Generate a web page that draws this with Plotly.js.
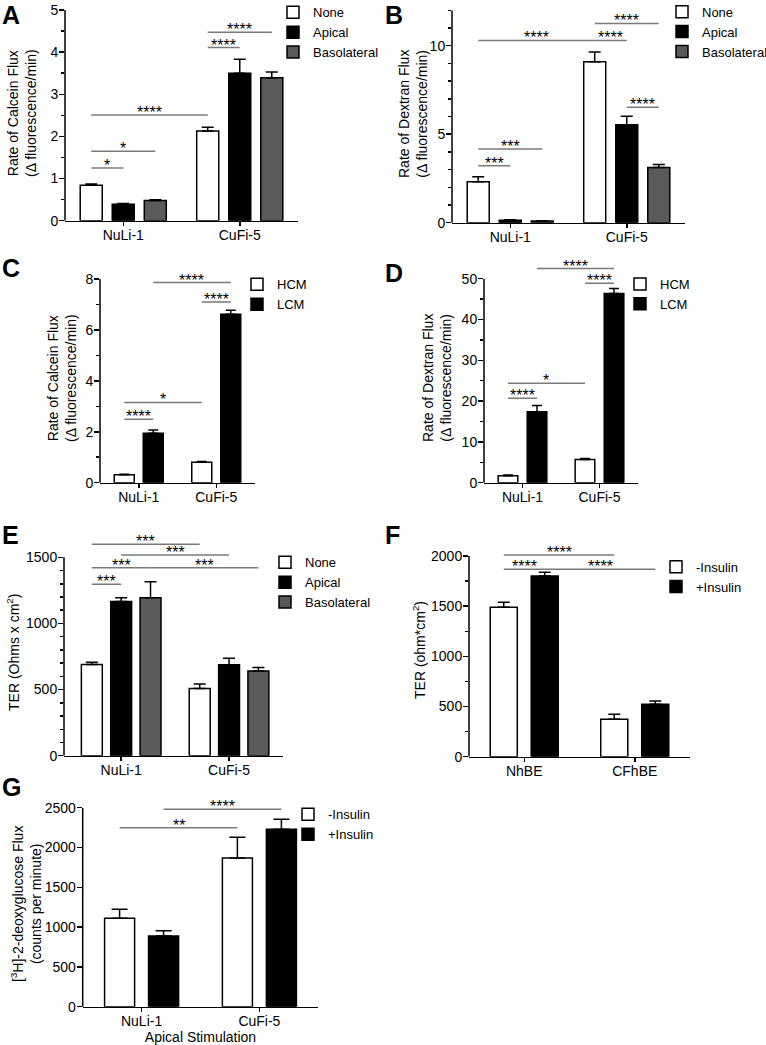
<!DOCTYPE html>
<html><head><meta charset="utf-8">
<script src="https://cdn.plot.ly/plotly-3.0.1.min.js"></script>
<style>html,body{margin:0;padding:0;background:#fff}#chart{width:766px;height:1045px}</style>
</head><body><div id="chart"></div>
<script>
const W = 766, H = 1045;
const FONT = 'Liberation Sans, Arial, Helvetica, sans-serif';

// ---------- categories ----------
const cellLines = ['NuLi-1', 'CuFi-5'];
const primaryCells = ['NhBE', 'CFhBE'];

// ---------- Panel A: calcein flux ----------
const aNone = [0.84, 2.13], aNoneErr = [0.03, 0.09];
const aApical = [0.39, 3.50], aApicalErr = [0.02, 0.33];
const aBaso = [0.48, 3.39], aBasoErr = [0.02, 0.14];
// significance: [cat0, bar0, cat1, bar1, y, label]
const aSig = [[0,0,0,1,1.25,'*'], [0,0,0,2,1.65,'*'], [0,0,1,0,2.51,'****'], [1,0,1,1,4.11,'****'], [1,0,1,2,4.47,'****']];

// ---------- Panel B: dextran flux ----------
const bNone = [2.32, 9.10], bNoneErr = [0.28, 0.55];
const bApical = [0.14, 5.54], bApicalErr = [0.03, 0.47];
const bBaso = [0.09, 3.12], bBasoErr = [0.02, 0.17];
const bSig = [[0,0,0,1,3.22,'***'], [0,0,0,2,4.16,'***'], [0,0,1,0,10.3,'****'], [1,0,1,1,10.3,'****'], [1,0,1,2,11.26,'****'], [1,1,1,2,6.52,'****']];

// ---------- Panel C: calcein flux, HCM vs LCM ----------
const cHCM = [0.31, 0.80], cHCMErr = [0.02, 0.03];
const cLCM = [1.94, 6.62], cLCMErr = [0.13, 0.15];
const cSig = [[0,0,0,1,2.49,'****'], [0,0,1,0,3.15,'*'], [1,0,1,1,7.1,'****'], [0,1,1,1,7.86,'****']];

// ---------- Panel D: dextran flux, HCM vs LCM ----------
const dHCM = [1.7, 5.7], dHCMErr = [0.2, 0.25];
const dLCM = [17.4, 46.4], dLCMErr = [1.5, 1.2];
const dSig = [[0,0,0,1,20.7,'****'], [0,0,1,0,24.4,'*'], [1,0,1,1,48.9,'****'], [0,1,1,1,52.5,'****']];

// ---------- Panel E: TER ----------
const eNone = [690, 509], eNoneErr = [16, 33];
const eApical = [1165, 688], eApicalErr = [30, 48];
const eBaso = [1195, 640], eBasoErr = [121, 26];
const eSig = [[0,0,0,1,1296,'***'], [0,0,0,2,1422,'***'], [0,2,1,2,1422,'***'], [0,1,1,1,1518,'***'], [0,0,1,0,1598,'***']];

// ---------- Panel F: TER, insulin ----------
const fMinus = [1489, 373], fMinusErr = [50, 49];
const fPlus = [1801, 522], fPlusErr = [37, 33];
const fSig = [[0,0,0,1,1868,'****'], [0,1,1,1,1868,'****'], [0,0,1,0,2011,'****']];

// ---------- Panel G: 2-deoxyglucose flux ----------
const gMinus = [1110, 1869], gMinusErr = [114, 259];
const gPlus = [888, 2229], gPlusErr = [67, 125];
const gSig = [[0,0,1,0,2249,'**'], [0,1,1,1,2480,'****']];

// ---------- styles ----------
const LINE = '#000000', SIGC = '#7a7a7a';
const WHITE = '#ffffff', BLACK = '#000000', GRAY = '#5a5a5a';

const panels = [
  {letter:'A', lp:[1, 0], dom:[65, 298, 10, 220.7], xr:[-0.5, 1.5], yr:[0, 5], yTop:5, major:1, minor:0.5,
   cats:cellLines, series:[['None', aNone, aNoneErr, WHITE], ['Apical', aApical, aApicalErr, BLACK], ['Basolateral', aBaso, aBasoErr, GRAY]],
   sig:aSig, slot:0.275, bw:0.189, cap:6, ytitle:'Rate of Calcein Flux<br>(Δ fluorescence/min)', tp:[22, 113], leg:[309, 12.3]},
  {letter:'B', lp:[384, 0], dom:[452, 685, 10.3, 222.7], xr:[-0.5, 1.5], yr:[0, 12], yTop:12, major:5, minor:1,
   cats:cellLines, series:[['None', bNone, bNoneErr, WHITE], ['Apical', bApical, bApicalErr, BLACK], ['Basolateral', bBaso, bBasoErr, GRAY]],
   sig:bSig, slot:0.275, bw:0.189, cap:6, ytitle:'Rate of Dextran Flux<br>(Δ fluorescence/min)', tp:[413, 114], leg:[698, 11.7]},
  {letter:'C', lp:[1, 253.3], dom:[100, 255, 279, 482.7], xr:[-0.5, 1.5], yr:[0, 8], yTop:8, major:2, minor:1,
   cats:cellLines, series:[['HCM', cHCM, cHCMErr, WHITE], ['LCM', cLCM, cLCMErr, BLACK]],
   sig:cSig, slot:0.374, bw:0.258, cap:5, ytitle:'Rate of Calcein Flux<br>(Δ fluorescence/min)', tp:[62, 378], leg:[273, 284.3]},
  {letter:'D', lp:[384, 258.3], dom:[484, 638, 262.4, 482.7], xr:[-0.5, 1.5], yr:[0, 54], yTop:50, major:10, minor:5,
   cats:cellLines, series:[['HCM', dHCM, dHCMErr, WHITE], ['LCM', dLCM, dLCMErr, BLACK]],
   sig:dSig, slot:0.377, bw:0.255, cap:5, ytitle:'Rate of Dextran Flux<br>(Δ fluorescence/min)', tp:[437, 378], leg:[656, 284]},
  {letter:'E', lp:[1, 520.3], dom:[64, 283, 538.8, 755.7], xr:[-0.53, 1.5], yr:[0, 1640], yTop:1500, major:500, minor:100,
   cats:cellLines, series:[['None', eNone, eNoneErr, WHITE], ['Apical', eApical, eApicalErr, BLACK], ['Basolateral', eBaso, eBasoErr, GRAY]],
   sig:eSig, slot:0.272, bw:0.194, cap:6, ytitle:'TER (Ohms x cm<sup>2</sup>)', tp:[13, 653], leg:[301, 562.3]},
  {letter:'F', lp:[384, 520.3], dom:[469, 690, 548, 756.7], xr:[-0.5, 1.5], yr:[0, 2080], yTop:2000, major:500, minor:250,
   cats:primaryCells, series:[['-Insulin', fMinus, fMinusErr, WHITE], ['+Insulin', fPlus, fPlusErr, BLACK]],
   sig:fSig, slot:0.371, bw:0.245, cap:6, ytitle:'TER (ohm*cm<sup>2</sup>)', tp:[419, 650], leg:[692, 566.7]},
  {letter:'G', lp:[1, 772.3], dom:[82.7, 318.3, 807.7, 1006.7], xr:[-0.5, 1.5], yr:[0, 2500], yTop:2500, major:500, minor:0,
   cats:cellLines, series:[['-Insulin', gMinus, gMinusErr, WHITE], ['+Insulin', gPlus, gPlusErr, BLACK]],
   sig:gSig, slot:0.3735, bw:0.255, cap:8, ytitle:'[<sup>3</sup>H]-2-deoxyglucose Flux<br>(counts per minute)', tp:[26, 904], leg:[324, 814.3],
   xtitle:'Apical Stimulation'}
];

const data = [], shapes = [], annotations = [];
const layout = {
  width: W, height: H,
  margin: {l:0, r:0, t:0, b:0, pad:0, autoexpand:false},
  paper_bgcolor: '#ffffff', plot_bgcolor: 'rgba(0,0,0,0)',
  font: {family: FONT, size: 14, color: '#000'},
  barmode: 'overlay', showlegend: true, hovermode: false
};

panels.forEach((p, k) => {
  const n = k + 1, sx = n === 1 ? '' : String(n);
  const xa = 'x' + sx, ya = 'y' + sx, legName = 'legend' + sx;
  const ns = p.series.length;
  const barX = (c, b) => c + (b - (ns - 1) / 2) * p.slot;

  p.series.forEach((s, i) => {
    data.push({
      type: 'bar', x: p.cats, y: s[1], name: s[0], xaxis: xa, yaxis: ya, legend: legName,
      width: p.bw, offset: (i - (ns - 1) / 2) * p.slot - p.bw / 2,
      marker: {color: s[3], line: {color: LINE, width: 1.5}},
      error_y: {type: 'data', symmetric: false, array: s[2], arrayminus: s[2].map(() => 0),
                color: LINE, thickness: 1.5, width: p.cap},
      hoverinfo: 'skip'
    });
  });

  const [x0, x1, yt, yb] = p.dom;
  const xax = {
    domain: [x0 / W, x1 / W], anchor: ya, type: 'category', range: p.xr, autorange: false,
    showline: true, linewidth: 1.5, linecolor: LINE, ticks: 'outside', ticklen: 4, tickwidth: 1.5, tickcolor: LINE,
    ticklabelstandoff: -3,
    showgrid: false, zeroline: false, tickfont: {size: 14}, fixedrange: true
  };
  if (p.xtitle) xax.title = {text: p.xtitle, font: {size: 14}, standoff: 1};
  layout['xaxis' + sx] = xax;

  const majors = [], minors = [];
  for (let v = 0; v <= p.yTop + 1e-9; v += p.major) majors.push(+v.toFixed(6));
  if (p.minor) for (let v = 0; v <= p.yTop + 1e-9; v += p.minor) minors.push(+v.toFixed(6));
  const yax = {
    domain: [1 - yb / H, 1 - yt / H], anchor: xa, range: p.yr, autorange: false,
    showline: false, ticks: 'outside', ticklen: 5, tickwidth: 1.5, tickcolor: LINE, ticklabelstandoff: -2,
    tickmode: 'array', tickvals: majors, showgrid: false, zeroline: false, tickfont: {size: 14}, fixedrange: true
  };
  if (p.minor) yax.minor = {tickmode: 'array', tickvals: minors, ticks: 'outside', ticklen: 3, tickwidth: 1.5, tickcolor: LINE, showgrid: false};
  layout['yaxis' + sx] = yax;

  // y axis title (two-line, rotated)
  annotations.push({xref: 'paper', yref: 'paper', x: p.tp[0] / W, y: 1 - p.tp[1] / H, xanchor: 'center', yanchor: 'middle',
                    textangle: -90, text: p.ytitle, showarrow: false, font: {size: 14, color: '#000'}});

  // y axis line (stops at last tick)
  shapes.push({type: 'line', xref: xa + ' domain', yref: ya, x0: 0, x1: 0, y0: 0, y1: p.yTop,
               line: {color: LINE, width: 1.5}, layer: 'above'});

  // significance brackets
  p.sig.forEach(([c0, b0, c1, b1, y, lab]) => {
    const sx0 = barX(c0, b0), sx1 = barX(c1, b1);
    shapes.push({type: 'line', xref: xa, yref: ya, x0: sx0, x1: sx1, y0: y, y1: y,
                 line: {color: SIGC, width: 1.5}, layer: 'above'});
    annotations.push({xref: xa, yref: ya, x: (sx0 + sx1) / 2, y: y, text: lab, showarrow: false,
                      xanchor: 'center', yanchor: 'bottom', yshift: -8, font: {size: 16, color: '#000'}});
  });

  // panel letter
  annotations.push({xref: 'paper', yref: 'paper', x: p.lp[0] / W, y: 1 - p.lp[1] / H, xanchor: 'left', yanchor: 'top',
                    borderpad: 0, text: '<b>' + p.letter + '</b>', showarrow: false, font: {size: 25, color: '#000'}});

  layout[legName] = {
    x: (p.leg[0] - 36) / W, y: 1 - (p.leg[1] - 15) / H, xanchor: 'left', yanchor: 'top',
    bgcolor: 'rgba(0,0,0,0)', borderwidth: 0, font: {size: 13, color: '#000'},
    itemwidth: 30, tracegroupgap: 0, traceorder: 'normal'
  };
});

layout.shapes = shapes;
layout.annotations = annotations;

Plotly.newPlot('chart', data, layout, {staticPlot: true, displayModeBar: false});
</script>
</body></html>
